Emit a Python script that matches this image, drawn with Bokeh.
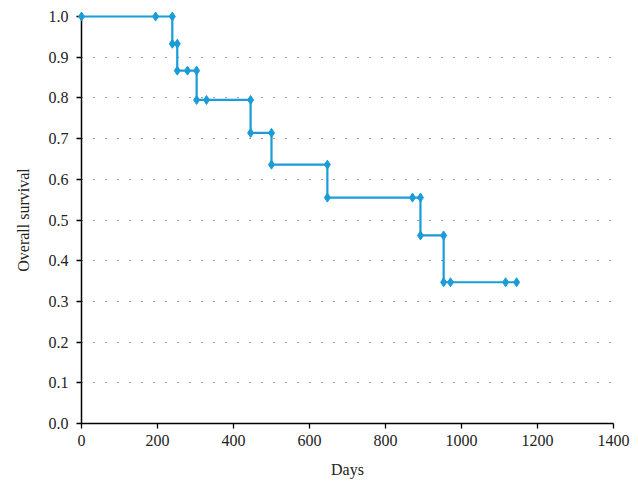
from bokeh.plotting import figure
from bokeh.models import Range1d, FixedTicker, CustomJSTickFormatter
from bokeh.embed import file_html
from bokeh.resources import INLINE

# Kaplan-Meier step vertices (days, survival)
days = [0, 195, 239, 239, 252, 252, 279, 303, 303, 329, 445, 445, 500, 500,
        647, 647, 871, 892, 892, 953, 953, 971, 1116, 1145]
survival = [1.0, 1.0, 1.0, 0.933, 0.933, 0.867, 0.867, 0.867, 0.795, 0.795,
            0.795, 0.714, 0.714, 0.636, 0.636, 0.555, 0.555, 0.555, 0.462,
            0.462, 0.347, 0.347, 0.347, 0.347]
x_ticks = [0, 200, 400, 600, 800, 1000, 1200, 1400]
y_ticks = [0.0, 0.1, 0.2, 0.3, 0.4, 0.5, 0.6, 0.7, 0.8, 0.9, 1.0]

FONT = "Liberation Serif"
COLOR = "#1a9cd8"

p = figure(width=631, height=480, output_backend="svg", toolbar_location=None,
           x_range=Range1d(0, 1400), y_range=Range1d(0, 1.0),
           min_border_left=81, min_border_right=18, min_border_top=16,
           min_border_bottom=50)
p.outline_line_color = None
p.background_fill_color = "white"
p.border_fill_color = "white"

p.xgrid.grid_line_color = None
p.ygrid.grid_line_color = "#444444"
p.ygrid.grid_line_dash = "1 11"
p.ygrid.grid_line_width = 1.2

p.xaxis.ticker = FixedTicker(ticks=x_ticks)
p.yaxis.ticker = FixedTicker(ticks=y_ticks)
p.yaxis.formatter = CustomJSTickFormatter(code="return tick.toFixed(1);")

for ax in (p.xaxis[0], p.yaxis[0]):
    ax.axis_line_color = "black"
    ax.axis_line_width = 1.5
    ax.major_tick_line_color = "black"
    ax.major_tick_line_width = 1.3
    ax.major_tick_in = 0
    ax.major_tick_out = 5
    ax.minor_tick_line_color = None
    ax.major_label_text_font = FONT
    ax.major_label_text_font_size = "16px"
    ax.major_label_text_color = "#222222"
    ax.axis_label_text_font = FONT
    ax.axis_label_text_font_size = "16px"
    ax.axis_label_text_font_style = "normal"
    ax.axis_label_text_color = "#222222"

p.xaxis.axis_label = "Days"
p.yaxis.axis_label = "Overall survival"
p.xaxis.major_label_standoff = 6
p.yaxis.major_label_standoff = 8
p.xaxis.axis_label_standoff = 12
p.yaxis.axis_label_standoff = 14

p.line(days, survival, line_color=COLOR, line_width=2.2, level="overlay")
p.scatter(days, survival, marker="diamond", size=9, fill_color=COLOR,
          line_color=COLOR, level="overlay")

open("out.html", "w").write(file_html(p, INLINE))
